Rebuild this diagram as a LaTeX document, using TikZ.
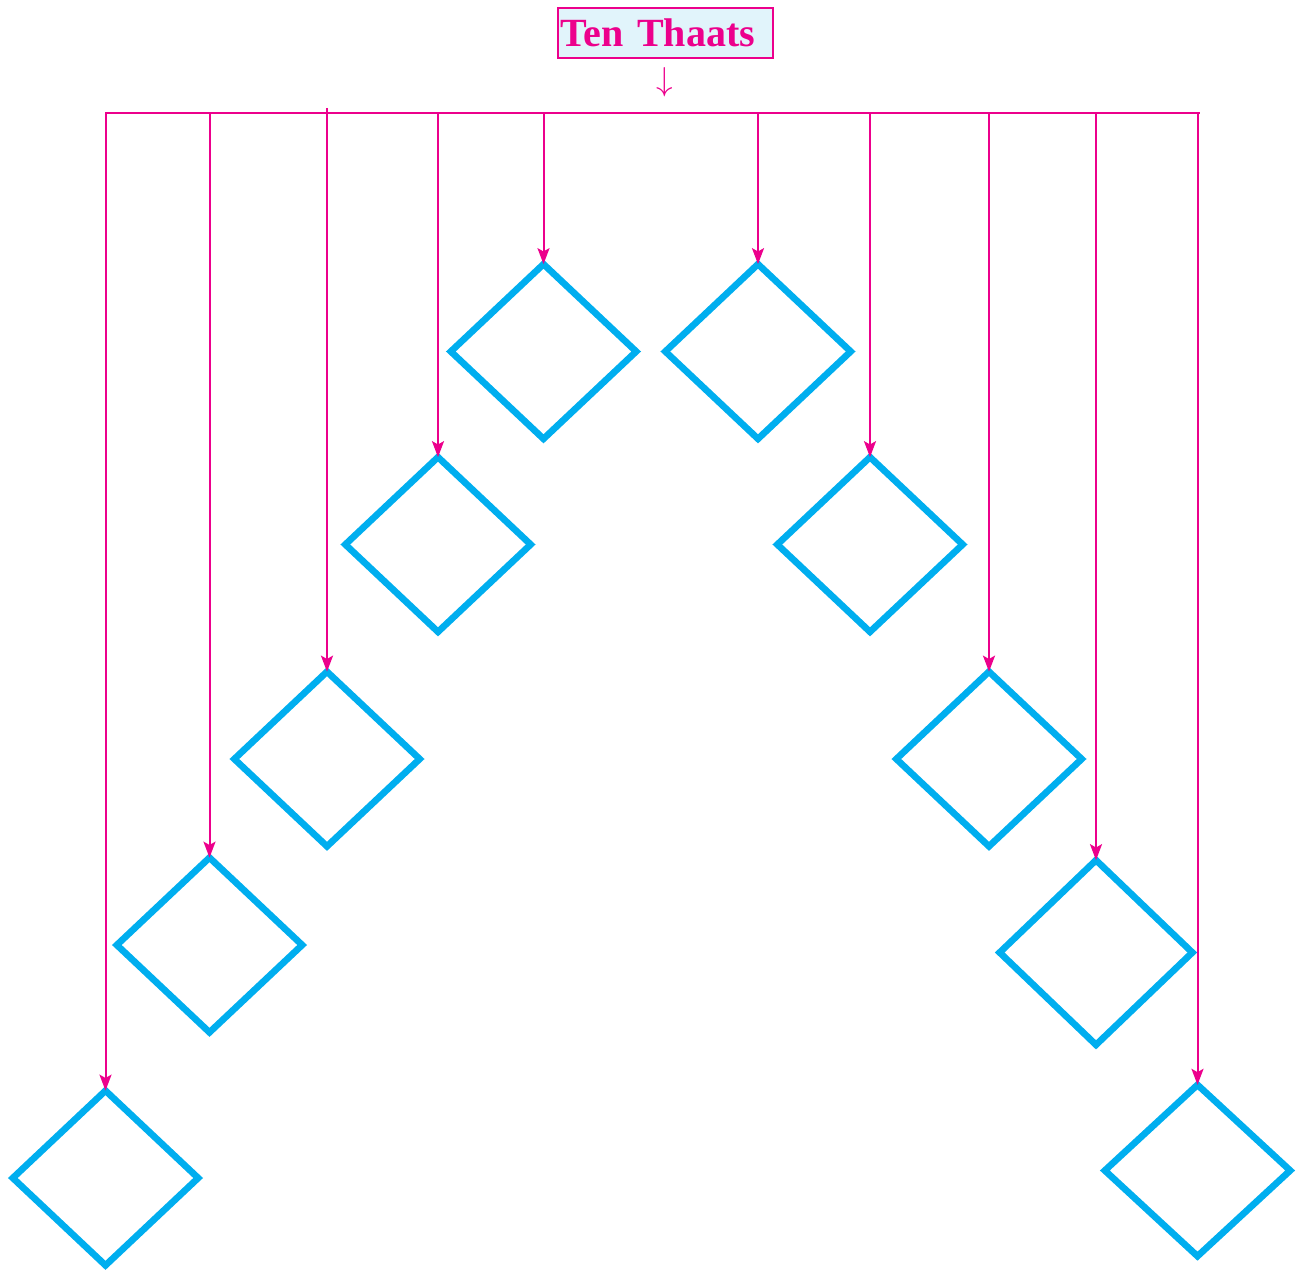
\documentclass[tikz,border=0pt]{standalone}
\usepackage{fontspec}
\setmainfont{Liberation Serif}
\usetikzlibrary{arrows.meta,shapes.geometric}
\definecolor{tpink}{HTML}{EC008C}
\definecolor{tcyan}{HTML}{00AEEF}
\definecolor{tfill}{HTML}{E1F4FB}
\begin{document}
\begin{tikzpicture}[x=0.75pt,y=-0.75pt,
  thaat/.style={diamond, draw=tcyan, line width=5pt, minimum width=139pt, minimum height=131pt, inner sep=0pt, outer sep=0pt},
  conn/.style={draw=tpink, line width=1.5pt, -{Stealth[length=12pt,width=9pt,inset=2.5pt]}},
  bus/.style={draw=tpink, line width=1.5pt},
  titlebox/.style={draw=tpink, fill=tfill, line width=1.5pt, minimum width=161pt, minimum height=37.5pt, inner xsep=2pt, inner ysep=0pt, text width=157pt, align=left, text=tpink, font=\bfseries\fontsize{30}{32}\selectfont},
  smallarrow/.style={text=tpink, inner sep=0pt, font=\fontsize{28}{30}\selectfont}]
\useasboundingbox (0,0) rectangle (1297,1270);

\node[titlebox] (title) at (665.5,33) {Ten Thaats};
\node[smallarrow] (down) at (665,82) {$\downarrow$};

\node[thaat] (d1) at (543.5,351.5) {};
\node[thaat] (d2) at (758,351.5) {};
\node[thaat] (d3) at (438,544.5) {};
\node[thaat] (d4) at (870,544.5) {};
\node[thaat] (d5) at (327,759) {};
\node[thaat] (d6) at (989,759) {};
\node[thaat] (d7) at (209.5,945) {};
\node[thaat, minimum width=144.5pt, minimum height=138.5pt] (d8) at (1096,952.5) {};
\node[thaat] (d9) at (105.5,1178) {};
\node[thaat, minimum height=128.5pt] (d10) at (1197.5,1170.5) {};

\coordinate (bl) at (105,113);
\coordinate (br) at (1200,113);
\draw[bus] (bl) -- (br);

\coordinate (b9) at (105.5,113);
\coordinate (b7) at (209.5,113);
\coordinate (b5) at (327,108);
\coordinate (b3) at (438,113);
\coordinate (b1) at (543.5,113);
\coordinate (b2) at (758,113);
\coordinate (b4) at (870,113);
\coordinate (b6) at (989,113);
\coordinate (b8) at (1096,113);
\coordinate (b10) at (1197.5,113);

\foreach \i in {1,...,10} {
  \draw[conn] (b\i) -- (d\i.north);
}
\end{tikzpicture}
\end{document}
